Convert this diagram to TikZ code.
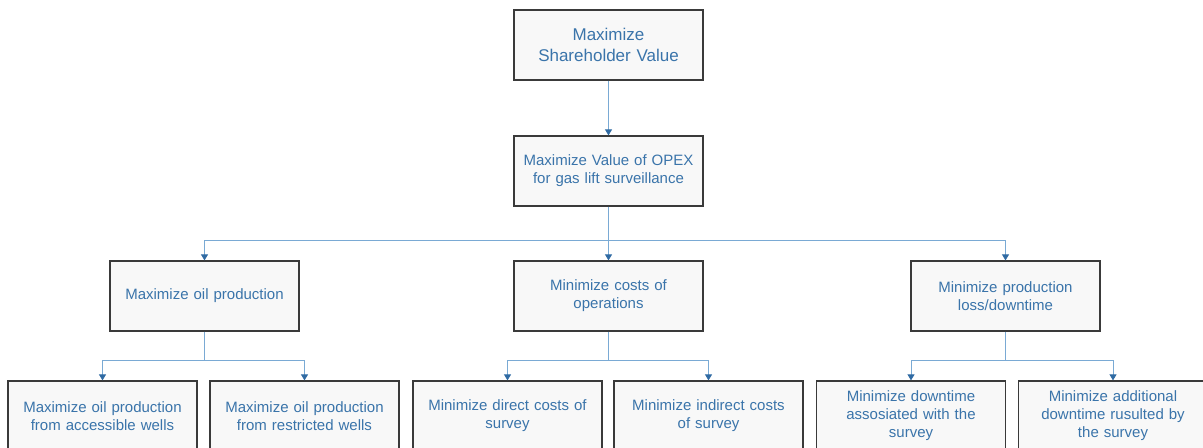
\documentclass[tikz,border=0pt]{standalone}
\usepackage{fontspec}
\setmainfont{Liberation Sans}
\usetikzlibrary{arrows.meta,positioning}
\definecolor{txtblue}{HTML}{3A74AA}
\definecolor{lineblue}{HTML}{7AAAD4}
\definecolor{tipblue}{HTML}{2F6AA3}
\definecolor{boxfill}{HTML}{F8F8F8}
\definecolor{boxline}{HTML}{3A3A3A}
\tikzset{
  box/.style={draw=boxline, line width=1.2bp, fill=boxfill, minimum width=189bp, minimum height=70bp,
    inner sep=2bp, align=center, text=txtblue, font=\fontsize{15bp}{18bp}\selectfont, text width=180bp},
  topbox/.style={box, font=\fontsize{17bp}{21bp}\selectfont},
  conn/.style={draw=lineblue, line width=0.9bp, -{Triangle[color=tipblue,width=7bp,length=6bp]}},
  plain/.style={draw=lineblue, line width=0.9bp}
}
\begin{document}
\begin{tikzpicture}[x=1bp,y=-1bp]
\useasboundingbox (0,0) rectangle (1203,448);
\clip (0,0) rectangle (1203,448);
\node[topbox] (top) at (608.5,45) {Maximize\\Shareholder Value};
\node[box] (l1) at (608.5,171) {Maximize Value of OPEX\\for gas lift surveillance};
\node[box] (a) at (204.5,296) {Maximize oil production};
\node[box] (b) at (608.5,296) {Minimize costs of\\operations};
\node[box] (c) at (1005.5,296) {Minimize production\\loss/downtime};
\node[box] (a1) at (102.5,416) {Maximize oil production\\from accessible wells};
\node[box] (a2) at (304.5,416) {Maximize oil production\\from restricted wells};
\node[box] (b1) at (507.5,416) {Minimize direct costs of\\survey};
\node[box] (b2) at (708.5,416) {Minimize indirect costs\\of survey};
\node[box] (c1) at (911,416) {Minimize downtime\\assosiated with the\\survey};
\node[box] (c2) at (1113,416) {Minimize additional\\downtime rusulted by\\the survey};
\coordinate (j1) at (608.5,240);
\coordinate (ja) at (204.5,360);
\coordinate (jb) at (608.5,360);
\coordinate (jc) at (1005.5,360);
\draw[conn] (top.south) -- (l1.north);
\draw[plain] (l1.south) -- (j1);
\draw[conn] (j1) -| (a.north);
\draw[conn] (j1) -- (b.north);
\draw[conn] (j1) -| (c.north);
\draw[plain] (a.south) -- (ja);
\draw[conn] (ja) -| (a1.north);
\draw[conn] (ja) -| (a2.north);
\draw[plain] (b.south) -- (jb);
\draw[conn] (jb) -| (b1.north);
\draw[conn] (jb) -| (b2.north);
\draw[plain] (c.south) -- (jc);
\draw[conn] (jc) -| (c1.north);
\draw[conn] (jc) -| (c2.north);
\end{tikzpicture}
\end{document}
